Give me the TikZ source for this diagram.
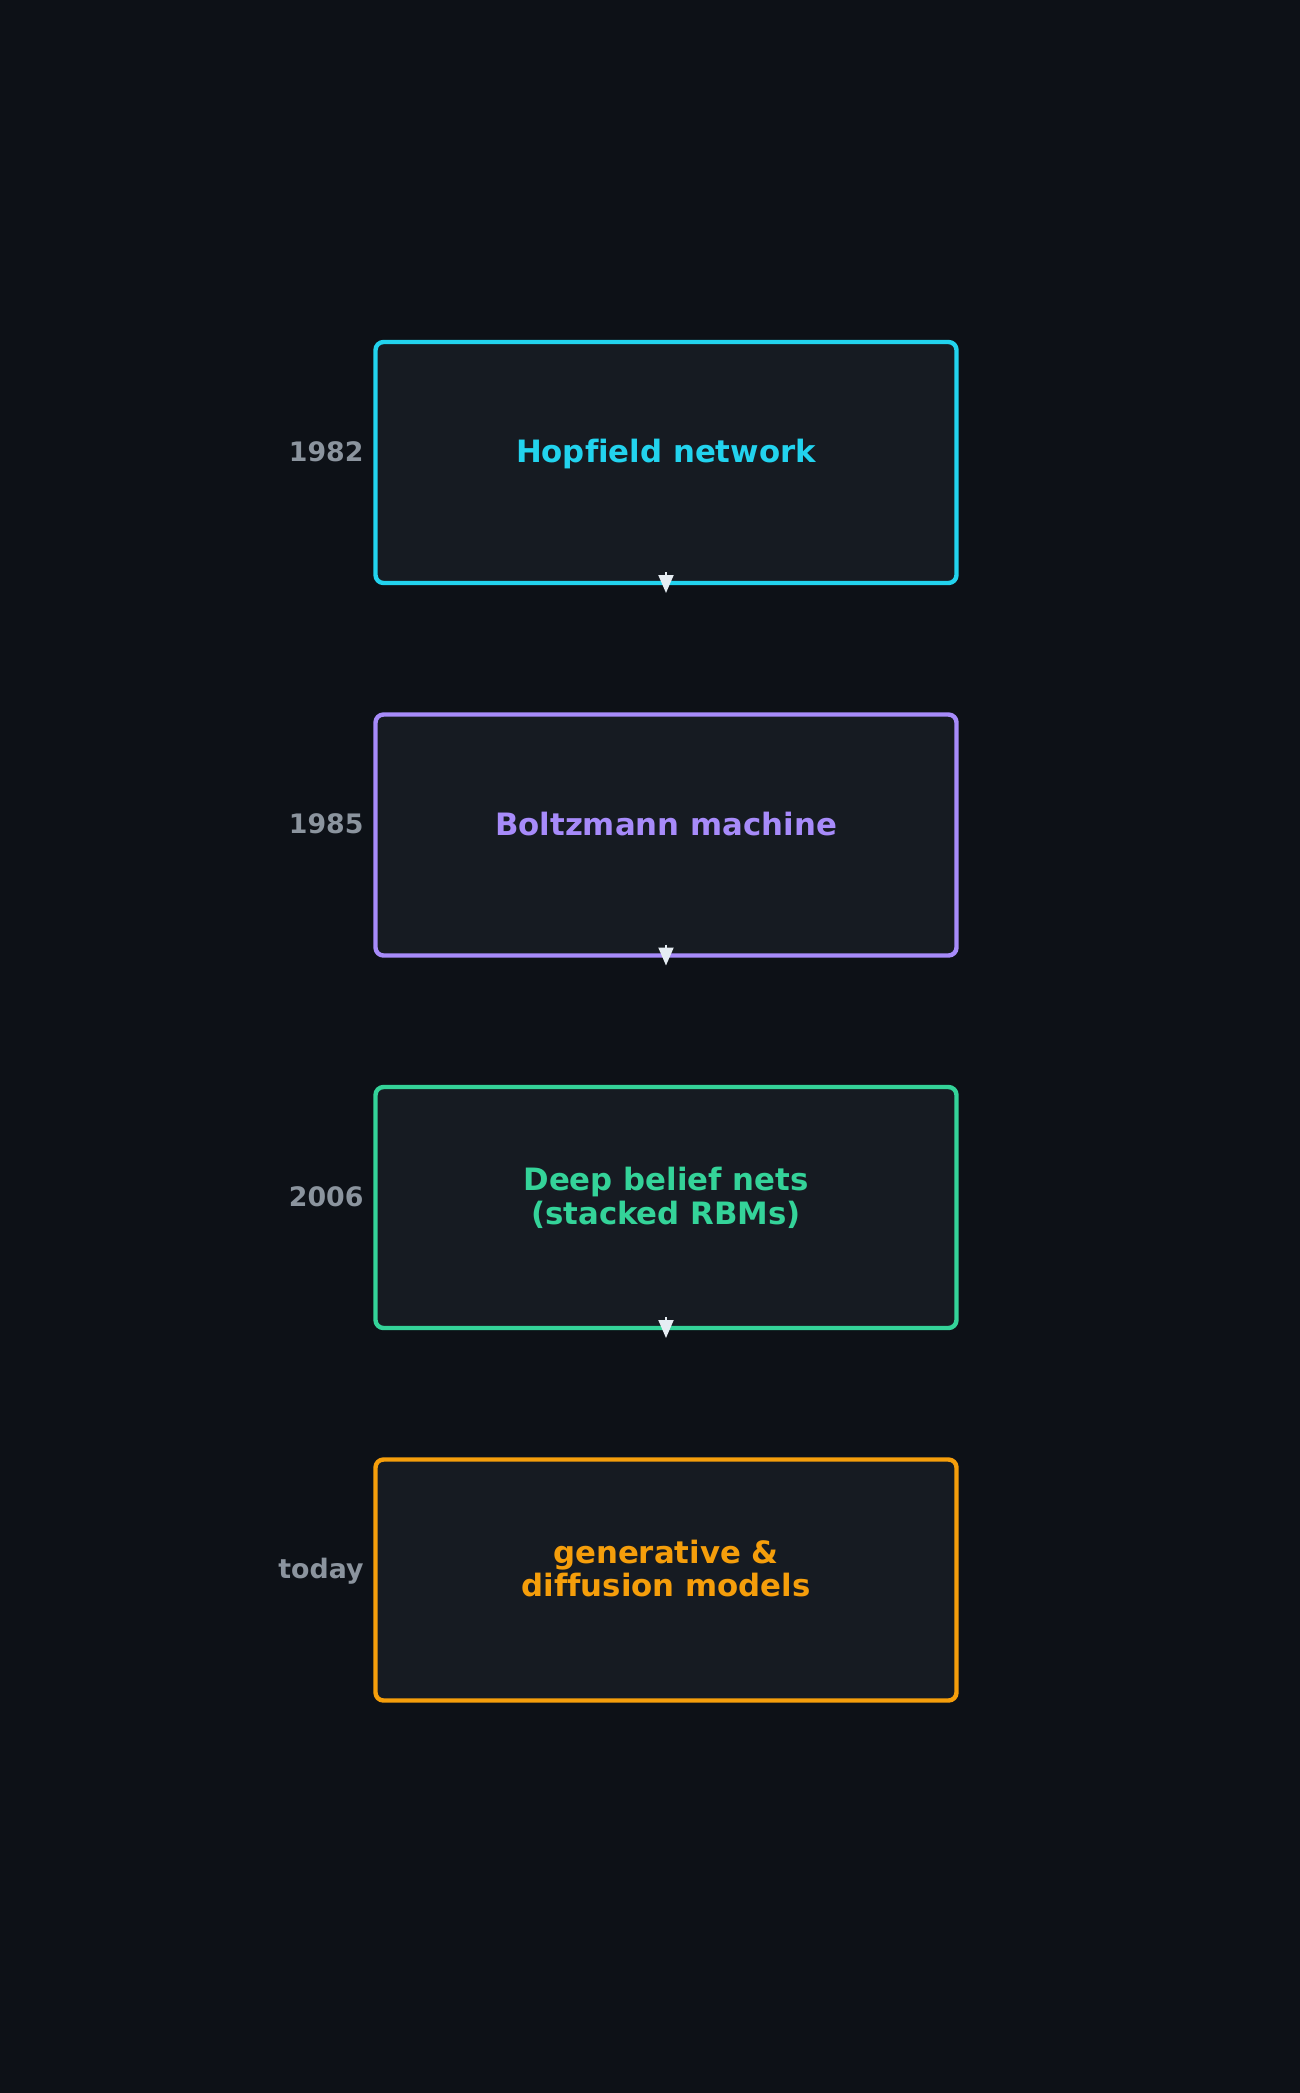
\documentclass[tikz,border=0pt]{standalone}
\usepackage{fontspec}
\setmainfont{DejaVu Sans}[Ligatures=NoCommon]
\usetikzlibrary{positioning,arrows.meta}
\definecolor{bgdark}{HTML}{0D1117}
\definecolor{boxfill}{HTML}{161B22}
\definecolor{yeargray}{HTML}{8B949E}
\definecolor{arrowwhite}{HTML}{E6EDF3}
\definecolor{hopcyan}{HTML}{22D3EE}
\definecolor{boltzviolet}{HTML}{A78BFA}
\definecolor{dbngreen}{HTML}{34D399}
\definecolor{genamber}{HTML}{F59E0B}
\begin{document}
\begin{tikzpicture}[x=0.5pt,y=-0.5pt,line join=round,line cap=round,
    >={Triangle[length=9pt,width=7.5pt]},node distance=65.75pt]
  \tikzset{era/.style={draw=#1,line width=2.2pt,fill=boxfill,rounded corners=4pt,
      minimum width=290.5pt,minimum height=120.5pt,inner sep=0pt,outer sep=0pt,
      text=#1,align=center,font=\bfseries\fontsize{15.4pt}{16.75pt}\selectfont,
      text height=6pt,text depth=6pt},
    twoline/.style={text height=22.75pt},
    yearlabel/.style={anchor=base east,inner sep=0pt,text=yeargray,
      font=\bfseries\fontsize{13.4pt}{16pt}\selectfont}}
  \fill[bgdark] (0,0) rectangle (1300,2093);
  \useasboundingbox (0,0) rectangle (1300,2093);
  % the four eras
  \node[era=hopcyan] (b1) at (666,462.5) {Hopfield network};
  \node[era=boltzviolet,below=of b1] (b2) {Boltzmann machine};
  \node[era=dbngreen,twoline,below=of b2] (b3) {Deep belief nets\\(stacked RBMs)};
  \node[era=genamber,twoline,below=of b3] (b4) {generative \&\\diffusion models};
  % years on the left
  \foreach \bx/\yr in {b1/1982,b2/1985,b3/2006,b4/today}
    \node[yearlabel] (y\bx) at ([xshift=-5.8pt,yshift=0.75pt]\bx.west) {\yr};
  % arrow heads under the boxes
  \foreach \src in {b1,b2,b3}{
    \coordinate (tip\src) at ([yshift=-5pt]\src.south);
    \draw[->,arrowwhite,line width=1pt,line cap=butt] ([yshift=5.5pt]\src.south) -- (tip\src);
  }
\end{tikzpicture}
\end{document}
